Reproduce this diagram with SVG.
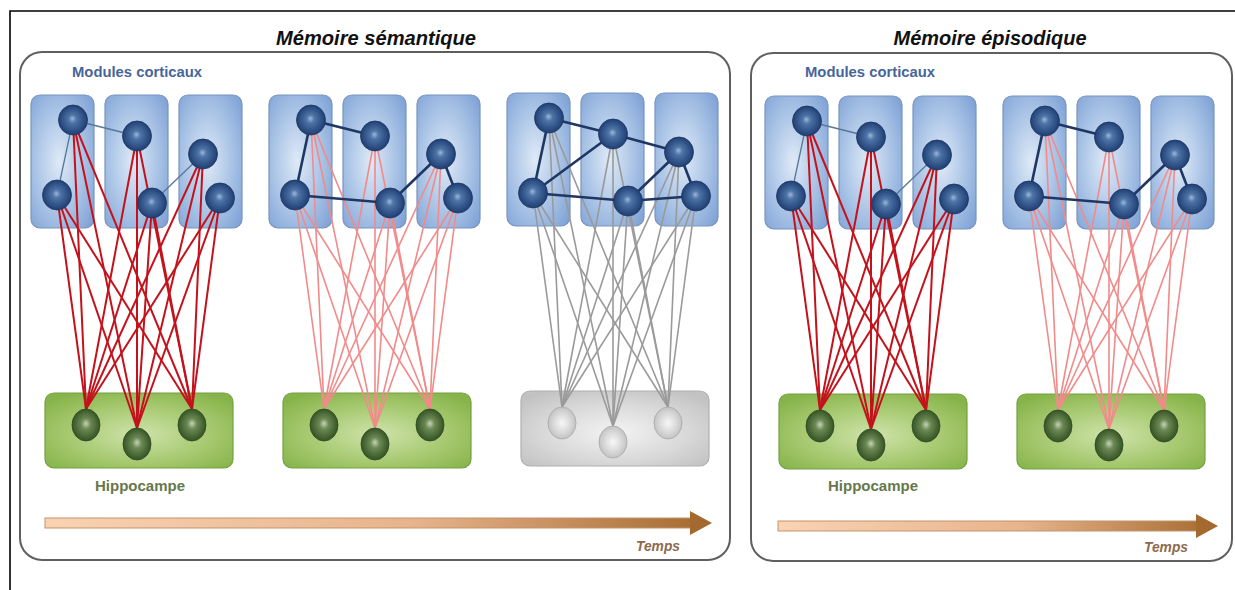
<svg xmlns="http://www.w3.org/2000/svg" xmlns:xlink="http://www.w3.org/1999/xlink" width="1235" height="590" viewBox="0 0 1235 590">
<defs>
<style>
.title{font-family:"Liberation Sans",Arial,sans-serif;font-weight:bold;font-style:italic;font-size:21px;fill:#111}
.mod{font-family:"Liberation Sans",Arial,sans-serif;font-weight:bold;font-size:15px;fill:#47659a}
.hip{font-family:"Liberation Sans",Arial,sans-serif;font-weight:bold;font-size:14px;fill:#66784a}
.temps{font-family:"Liberation Sans",Arial,sans-serif;font-weight:bold;font-style:italic;font-size:15px;fill:#8c6a4c}
.panel{fill:#fff;stroke:#5f5f5f;stroke-width:2}
.crect{fill:url(#gBlue);stroke:#7894bf;stroke-width:1.2}
.cnode{fill:url(#gNode);stroke:#1d3563;stroke-width:0.8}
.hrect{fill:url(#gGreen);stroke:#76a042;stroke-width:1.2}
.hnode{fill:url(#gHnode);stroke:#2f4a22;stroke-width:0.8}
.grect{fill:url(#gGray);stroke:#b0b0b0;stroke-width:1.2}
.gnode{fill:url(#gGnode);stroke:#a8a8a8;stroke-width:0.8}
.fan-dark{stroke:#c4121c;stroke-width:2;fill:none}
.fan-light{stroke:#f28a8a;stroke-width:1.6;fill:none}
.fan-gray{stroke:#9a9a9a;stroke-width:1.6;fill:none}
.e-thin{stroke:#587898;stroke-width:1.3}
.e-thick{stroke:#1f3763;stroke-width:2.6}
</style>
<radialGradient id="gBlue" cx="45%" cy="50%" r="70%">
<stop offset="0" stop-color="#dfeaf7"/><stop offset="0.55" stop-color="#aac4e6"/><stop offset="1" stop-color="#7fa2d6"/>
</radialGradient>
<radialGradient id="gNode" cx="50%" cy="50%" r="55%" fx="48%" fy="45%">
<stop offset="0" stop-color="#9db6d8"/><stop offset="0.25" stop-color="#4e74a8"/><stop offset="0.8" stop-color="#27487c"/><stop offset="1" stop-color="#1b3564"/>
</radialGradient>
<radialGradient id="gGreen" cx="50%" cy="55%" r="65%">
<stop offset="0" stop-color="#cfe3aa"/><stop offset="0.6" stop-color="#a5c86e"/><stop offset="1" stop-color="#86b44a"/>
</radialGradient>
<radialGradient id="gHnode" cx="50%" cy="50%" r="55%" fx="50%" fy="45%">
<stop offset="0" stop-color="#c5d3b8"/><stop offset="0.3" stop-color="#6d8a55"/><stop offset="0.8" stop-color="#3f5e2d"/><stop offset="1" stop-color="#314d24"/>
</radialGradient>
<radialGradient id="gGray" cx="50%" cy="55%" r="65%">
<stop offset="0" stop-color="#f3f3f3"/><stop offset="0.6" stop-color="#d8d8d8"/><stop offset="1" stop-color="#c2c2c2"/>
</radialGradient>
<radialGradient id="gGnode" cx="50%" cy="50%" r="55%">
<stop offset="0" stop-color="#f7f7f7"/><stop offset="0.6" stop-color="#d6d6d6"/><stop offset="1" stop-color="#bdbdbd"/>
</radialGradient>
<linearGradient id="gArrow1" gradientUnits="userSpaceOnUse" x1="45" y1="0" x2="712" y2="0">
<stop offset="0" stop-color="#f9d3b4"/><stop offset="0.55" stop-color="#e7b48c"/><stop offset="1" stop-color="#a4692e"/>
</linearGradient>
<linearGradient id="gArrow2" gradientUnits="userSpaceOnUse" x1="778" y1="0" x2="1218" y2="0">
<stop offset="0" stop-color="#f9d3b4"/><stop offset="0.55" stop-color="#e7b48c"/><stop offset="1" stop-color="#a4692e"/>
</linearGradient>
<g id="fan">
<line x1="73" y1="120" x2="86" y2="409"/><line x1="73" y1="120" x2="137" y2="428"/><line x1="73" y1="120" x2="192" y2="409"/>
<line x1="57" y1="195" x2="86" y2="409"/><line x1="57" y1="195" x2="137" y2="428"/><line x1="57" y1="195" x2="192" y2="409"/>
<line x1="137" y1="136" x2="86" y2="409"/><line x1="137" y1="136" x2="137" y2="428"/><line x1="137" y1="136" x2="192" y2="409"/>
<line x1="152" y1="203" x2="86" y2="409"/><line x1="152" y1="203" x2="137" y2="428"/><line x1="152" y1="203" x2="192" y2="409"/>
<line x1="203" y1="154" x2="86" y2="409"/><line x1="203" y1="154" x2="137" y2="428"/><line x1="203" y1="154" x2="192" y2="409"/>
<line x1="220" y1="198" x2="86" y2="409"/><line x1="220" y1="198" x2="137" y2="428"/><line x1="220" y1="198" x2="192" y2="409"/>
</g>
</defs>

<rect width="1235" height="590" fill="#fff"/>
<path d="M10,590 V11 H1235" fill="none" stroke="#000" stroke-width="1.6"/>

<g id="panel-semantique">
<rect class="panel" x="20" y="52" width="710" height="508" rx="22"/>
<text class="title" x="376" y="45" text-anchor="middle" textLength="200" lengthAdjust="spacingAndGlyphs">Mémoire sémantique</text>
<text class="mod" x="72" y="77" textLength="130" lengthAdjust="spacingAndGlyphs">Modules corticaux</text>
<text class="hip" x="95" y="491" textLength="90" lengthAdjust="spacingAndGlyphs">Hippocampe</text>
<rect x="45" y="518" width="646" height="10" fill="url(#gArrow1)" stroke="#c3936c" stroke-width="1"/>
<polygon points="690,511 712,523 690,535" fill="#a4692e"/>
<text class="temps" x="636" y="551" textLength="44" lengthAdjust="spacingAndGlyphs">Temps</text>
</g>

<g id="panel-episodique">
<rect class="panel" x="751" y="53" width="481" height="508" rx="22"/>
<text class="title" x="990" y="45" text-anchor="middle" textLength="193" lengthAdjust="spacingAndGlyphs">Mémoire épisodique</text>
<text class="mod" x="805" y="77" textLength="130" lengthAdjust="spacingAndGlyphs">Modules corticaux</text>
<text class="hip" x="828" y="491" textLength="90" lengthAdjust="spacingAndGlyphs">Hippocampe</text>
<rect x="778" y="521" width="419" height="10" fill="url(#gArrow2)" stroke="#c3936c" stroke-width="1"/>
<polygon points="1196,514 1218,526 1196,538" fill="#a4692e"/>
<text class="temps" x="1144" y="552" textLength="44" lengthAdjust="spacingAndGlyphs">Temps</text>
</g>

<!-- module and hippocampus containers -->
<g id="g1-modules"><rect class="crect" x="31" y="95" width="63" height="133" rx="9"/><rect class="crect" x="105" y="95" width="63" height="133" rx="9"/><rect class="crect" x="179" y="95" width="63" height="133" rx="9"/></g>
<g id="g2-modules"><rect class="crect" x="269" y="95" width="63" height="133" rx="9"/><rect class="crect" x="343" y="95" width="63" height="133" rx="9"/><rect class="crect" x="417" y="95" width="63" height="133" rx="9"/></g>
<g id="g3-modules"><rect class="crect" x="507" y="93" width="63" height="133" rx="9"/><rect class="crect" x="581" y="93" width="63" height="133" rx="9"/><rect class="crect" x="655" y="93" width="63" height="133" rx="9"/></g>
<g id="g4-modules"><rect class="crect" x="765" y="96" width="63" height="133" rx="9"/><rect class="crect" x="839" y="96" width="63" height="133" rx="9"/><rect class="crect" x="913" y="96" width="63" height="133" rx="9"/></g>
<g id="g5-modules"><rect class="crect" x="1003" y="96" width="63" height="133" rx="9"/><rect class="crect" x="1077" y="96" width="63" height="133" rx="9"/><rect class="crect" x="1151" y="96" width="63" height="133" rx="9"/></g>
<g id="g1-hippo"><rect class="hrect" x="45" y="393" width="188" height="75" rx="9"/></g>
<g id="g2-hippo"><rect class="hrect" x="283" y="393" width="188" height="75" rx="9"/></g>
<g id="g3-hippo"><rect class="grect" x="521" y="391" width="188" height="75" rx="9"/></g>
<g id="g4-hippo"><rect class="hrect" x="779" y="394" width="188" height="75" rx="9"/></g>
<g id="g5-hippo"><rect class="hrect" x="1017" y="394" width="188" height="75" rx="9"/></g>

<g id="connectors">
<use xlink:href="#fan" href="#fan" class="fan-dark"/>
<use xlink:href="#fan" href="#fan" class="fan-light" transform="translate(238,0)"/>
<use xlink:href="#fan" href="#fan" class="fan-gray" transform="translate(476,-2)"/>
<use xlink:href="#fan" href="#fan" class="fan-dark" transform="translate(734,1)"/>
<use xlink:href="#fan" href="#fan" class="fan-light" transform="translate(972,1)"/>
<g class="e-thin">
<line x1="73" y1="120" x2="137" y2="136"/><line x1="73" y1="120" x2="57" y2="195"/><line x1="152" y1="203" x2="203" y2="154"/>
<line x1="807" y1="121" x2="871" y2="137"/><line x1="807" y1="121" x2="791" y2="196"/><line x1="886" y1="204" x2="937" y2="155"/>
</g>
<g class="e-thick">
<line x1="311" y1="120" x2="375" y2="136"/><line x1="311" y1="120" x2="295" y2="195"/><line x1="295" y1="195" x2="390" y2="203"/><line x1="390" y1="203" x2="441" y2="154"/><line x1="441" y1="154" x2="458" y2="198"/>
<line x1="549" y1="118" x2="613" y2="134"/><line x1="549" y1="118" x2="533" y2="193"/><line x1="533" y1="193" x2="613" y2="134"/><line x1="533" y1="193" x2="628" y2="201"/><line x1="613" y1="134" x2="679" y2="152"/><line x1="628" y1="201" x2="679" y2="152"/><line x1="628" y1="201" x2="696" y2="196"/><line x1="679" y1="152" x2="696" y2="196"/>
<line x1="1045" y1="121" x2="1109" y2="137"/><line x1="1045" y1="121" x2="1029" y2="196"/><line x1="1029" y1="196" x2="1124" y2="204"/><line x1="1124" y1="204" x2="1175" y2="155"/><line x1="1175" y1="155" x2="1192" y2="199"/>
</g>
</g>

<!-- neurons -->
<g id="g1-neurons">
<g id="g1-c1"><ellipse class="cnode" cx="73" cy="120" rx="14.5" ry="15"/></g>
<g id="g1-c2"><ellipse class="cnode" cx="57" cy="195" rx="14.5" ry="15"/></g>
<g id="g1-c3"><ellipse class="cnode" cx="137" cy="136" rx="14.5" ry="15"/></g>
<g id="g1-c4"><ellipse class="cnode" cx="152" cy="203" rx="14.5" ry="15"/></g>
<g id="g1-c5"><ellipse class="cnode" cx="203" cy="154" rx="14.5" ry="15"/></g>
<g id="g1-c6"><ellipse class="cnode" cx="220" cy="198" rx="14.5" ry="15"/></g>
<g id="g1-h1"><ellipse class="hnode" cx="86" cy="425" rx="14" ry="16"/></g>
<g id="g1-h2"><ellipse class="hnode" cx="137" cy="444" rx="14" ry="16"/></g>
<g id="g1-h3"><ellipse class="hnode" cx="192" cy="425" rx="14" ry="16"/></g>
</g>
<g id="g2-neurons">
<g id="g2-c1"><ellipse class="cnode" cx="311" cy="120" rx="14.5" ry="15"/></g>
<g id="g2-c2"><ellipse class="cnode" cx="295" cy="195" rx="14.5" ry="15"/></g>
<g id="g2-c3"><ellipse class="cnode" cx="375" cy="136" rx="14.5" ry="15"/></g>
<g id="g2-c4"><ellipse class="cnode" cx="390" cy="203" rx="14.5" ry="15"/></g>
<g id="g2-c5"><ellipse class="cnode" cx="441" cy="154" rx="14.5" ry="15"/></g>
<g id="g2-c6"><ellipse class="cnode" cx="458" cy="198" rx="14.5" ry="15"/></g>
<g id="g2-h1"><ellipse class="hnode" cx="324" cy="425" rx="14" ry="16"/></g>
<g id="g2-h2"><ellipse class="hnode" cx="375" cy="444" rx="14" ry="16"/></g>
<g id="g2-h3"><ellipse class="hnode" cx="430" cy="425" rx="14" ry="16"/></g>
</g>
<g id="g3-neurons">
<g id="g3-c1"><ellipse class="cnode" cx="549" cy="118" rx="14.5" ry="15"/></g>
<g id="g3-c2"><ellipse class="cnode" cx="533" cy="193" rx="14.5" ry="15"/></g>
<g id="g3-c3"><ellipse class="cnode" cx="613" cy="134" rx="14.5" ry="15"/></g>
<g id="g3-c4"><ellipse class="cnode" cx="628" cy="201" rx="14.5" ry="15"/></g>
<g id="g3-c5"><ellipse class="cnode" cx="679" cy="152" rx="14.5" ry="15"/></g>
<g id="g3-c6"><ellipse class="cnode" cx="696" cy="196" rx="14.5" ry="15"/></g>
<g id="g3-h1"><ellipse class="gnode" cx="562" cy="423" rx="14" ry="16"/></g>
<g id="g3-h2"><ellipse class="gnode" cx="613" cy="442" rx="14" ry="16"/></g>
<g id="g3-h3"><ellipse class="gnode" cx="668" cy="423" rx="14" ry="16"/></g>
</g>
<g id="g4-neurons">
<g id="g4-c1"><ellipse class="cnode" cx="807" cy="121" rx="14.5" ry="15"/></g>
<g id="g4-c2"><ellipse class="cnode" cx="791" cy="196" rx="14.5" ry="15"/></g>
<g id="g4-c3"><ellipse class="cnode" cx="871" cy="137" rx="14.5" ry="15"/></g>
<g id="g4-c4"><ellipse class="cnode" cx="886" cy="204" rx="14.5" ry="15"/></g>
<g id="g4-c5"><ellipse class="cnode" cx="937" cy="155" rx="14.5" ry="15"/></g>
<g id="g4-c6"><ellipse class="cnode" cx="954" cy="199" rx="14.5" ry="15"/></g>
<g id="g4-h1"><ellipse class="hnode" cx="820" cy="426" rx="14" ry="16"/></g>
<g id="g4-h2"><ellipse class="hnode" cx="871" cy="445" rx="14" ry="16"/></g>
<g id="g4-h3"><ellipse class="hnode" cx="926" cy="426" rx="14" ry="16"/></g>
</g>
<g id="g5-neurons">
<g id="g5-c1"><ellipse class="cnode" cx="1045" cy="121" rx="14.5" ry="15"/></g>
<g id="g5-c2"><ellipse class="cnode" cx="1029" cy="196" rx="14.5" ry="15"/></g>
<g id="g5-c3"><ellipse class="cnode" cx="1109" cy="137" rx="14.5" ry="15"/></g>
<g id="g5-c4"><ellipse class="cnode" cx="1124" cy="204" rx="14.5" ry="15"/></g>
<g id="g5-c5"><ellipse class="cnode" cx="1175" cy="155" rx="14.5" ry="15"/></g>
<g id="g5-c6"><ellipse class="cnode" cx="1192" cy="199" rx="14.5" ry="15"/></g>
<g id="g5-h1"><ellipse class="hnode" cx="1058" cy="426" rx="14" ry="16"/></g>
<g id="g5-h2"><ellipse class="hnode" cx="1109" cy="445" rx="14" ry="16"/></g>
<g id="g5-h3"><ellipse class="hnode" cx="1164" cy="426" rx="14" ry="16"/></g>
</g>
</svg>
